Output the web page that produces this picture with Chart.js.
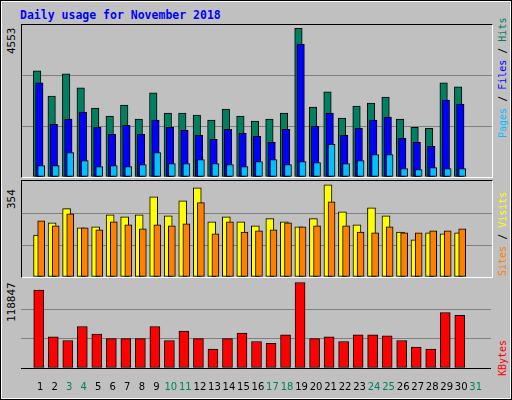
<!DOCTYPE html>
<html>
<head>
<meta charset="utf-8">
<script src="https://cdn.jsdelivr.net/npm/chart.js@4"></script>
<style>
  body { margin: 0; }
  #frame { position: relative; width: 508px; height: 396px; background: #c0c0c0;
    border: 2px solid #fff; outline: 1px solid #000; outline-offset: -1px; box-sizing: content-box; }
  .panel { position: absolute; left: 19px; width: 470px; border-top: 1px solid #000; border-left: 1px solid #000;
    border-right: 1px solid #fff; border-bottom: 1px solid #fff; }
  .rot { position: absolute; font: 10px "DejaVu Sans Mono", monospace; transform-origin: left top;
    transform: rotate(-90deg); white-space: nowrap; }
  #title { position: absolute; left: 18px; top: 6px; font: bold 11.5px "DejaVu Sans Mono", monospace; color: #0000ff; }
</style>
</head>
<body>
<div id="frame">
  <div id="title">Daily usage for November 2018</div>
  <div class="panel" style="top:22px;height:152px"><canvas id="c1"></canvas></div>
  <div class="panel" style="top:178px;height:96px"><canvas id="c2"></canvas></div>
  <div class="panel" style="top:278px;height:118px;border:none"><canvas id="c3"></canvas></div>
  <div class="rot" style="left:3px;top:52px;font-size:11px;color:#000">4553</div>
  <div class="rot" style="left:3px;top:207px;font-size:11px;color:#000">354</div>
  <div class="rot" style="left:3px;top:320px;font-size:11px;color:#000">118847</div>
  <div class="rot" style="left:495px;top:136px"><span style="color:#00c0ff">Pages</span> / <span style="color:#0000ff">Files</span> / <span style="color:#008060">Hits</span></div>
  <div class="rot" style="left:495px;top:274px"><span style="color:#ff8000">Sites</span> / <span style="color:#ffff00">Visits</span></div>
  <div class="rot" style="left:495px;top:374px;color:#ff0000">KBytes</div>
</div>
<script>
const days = [];
for (let d = 1; d <= 31; d++) days.push(d);
const weekends = [3, 4, 10, 11, 17, 18, 24, 25, 31];

const hits = [3183, 2427, 3092, 2669, 2065, 1823, 2155, 1732, 2518, 1913, 1913, 1853, 1702, 2034, 1823,
  1672, 1732, 1913, 4451, 2095, 2548, 1762, 2125, 2216, 2397, 1732, 1491, 1460, 2820, 2699];
const files = [2820, 1581, 1732, 1944, 1491, 1279, 1551, 1279, 1702, 1491, 1400, 1249, 1128, 1430, 1309,
  1219, 1037, 1430, 3978, 1521, 1913, 1249, 1460, 1702, 1793, 1158, 1037, 916, 2306, 2185];
const pages = [342, 342, 735, 493, 312, 342, 312, 373, 735, 403, 403, 524, 403, 373, 312,
  463, 524, 373, 463, 433, 977, 403, 493, 675, 675, 252, 222, 282, 252, 252];
const visits = [155, 200, 252, 181, 185, 229, 222, 229, 296, 226, 281, 329, 203, 222, 203,
  189, 215, 203, 185, 215, 340, 240, 192, 255, 226, 166, 137, 163, 159, 163];
const sites = [207, 189, 233, 181, 174, 203, 192, 178, 192, 189, 196, 274, 159, 203, 166,
  170, 174, 200, 185, 189, 277, 189, 166, 163, 185, 163, 163, 170, 170, 178];
const kbytes = [105360, 42140, 37080, 56050, 45930, 39610, 39610, 39610, 56050, 37080, 49730, 39610, 25710, 39610, 47200,
  35820, 33290, 44670, 115460, 39610, 42140, 35820, 44670, 44670, 43400, 37080, 28230, 25710, 75010, 71220];
const maxima = [4553, 354, 118847];

function pts(vals, off) {
  return vals.map((v, i) => ({ x: days[i] + off, y: v }));
}
function bars(label, vals, off, color, w, order) {
  return { label: label, data: pts(vals, off), backgroundColor: color, borderColor: "#000",
    borderWidth: 1, borderSkipped: false, barThickness: w, grouped: false, order: order };
}
function makeChart(id, h, datasets, max, showX) {
  const c = document.getElementById(id);
  c.width = 470; c.height = h;
  return new Chart(c, {
    type: "bar",
    data: { datasets: datasets },
    options: {
      responsive: false, animation: false,
      layout: { padding: 0 },
      plugins: { legend: { display: false }, tooltip: { enabled: false } },
      scales: {
        x: {
          type: "linear", min: 0.2, max: 31.53, display: showX,
          afterBuildTicks: (ax) => { ax.ticks = days.map((d) => ({ value: d })); },
          grid: { display: false }, border: { color: "#000", width: 1 },
          ticks: {
            padding: 5, autoSkip: false, maxRotation: 0, minRotation: 0,
            font: { family: "DejaVu Sans", size: 10 },
            color: (ctx) => (weekends.includes(ctx.tick.value) ? "#008060" : "#000"),
          },
        },
        y: {
          min: 0, max: max, display: true,
          afterBuildTicks: (ax) => { ax.ticks = [0, max / 3, (2 * max) / 3, max].map((v) => ({ value: v })); },
          ticks: { display: false },
          border: { display: false },
          grid: { color: (ctx) => (ctx.tick.value > 0 && ctx.tick.value < max ? "#808080" : "transparent"), drawTicks: false },
        },
      },
    },
  });
}

makeChart("c1", 152, [
  bars("Pages", pages, 0.0, "#00c0ff", 7, 0),
  bars("Files", files, -0.13, "#0000ff", 7.5, 1),
  bars("Hits", hits, -0.28, "#008060", 7.5, 2),
], maxima[0], false);
makeChart("c2", 96, [
  bars("Sites", sites, 0.0, "#ff8000", 7, 0),
  bars("Visits", visits, -0.25, "#ffff00", 8, 1),
], maxima[1], false);
makeChart("c3", 118, [
  bars("KBytes", kbytes, -0.1, "#ff0000", 10, 0),
], maxima[2], true);
</script>
</body>
</html>
